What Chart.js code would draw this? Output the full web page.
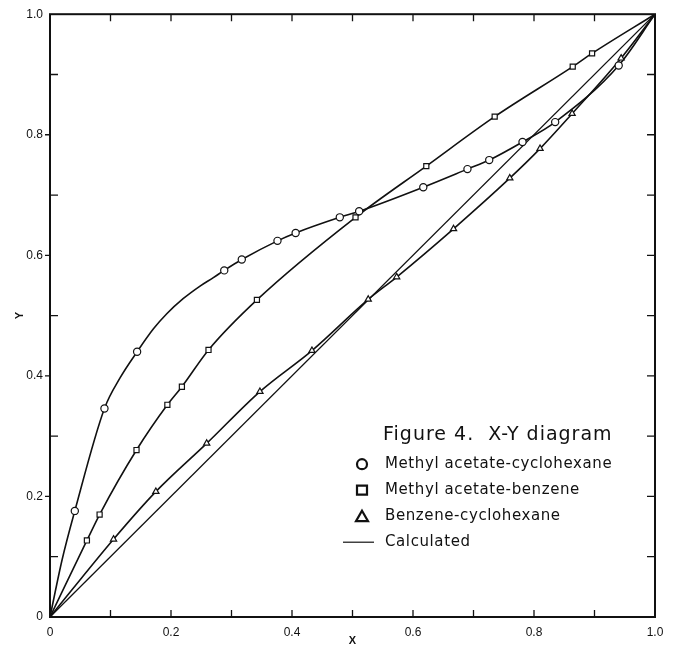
<!DOCTYPE html>
<html>
<head>
<meta charset="utf-8">
<script src="https://cdn.jsdelivr.net/npm/chart.js@4/dist/chart.umd.min.js"></script>
<style>
  html, body { margin: 0; padding: 0; background: #fff; }
  #xyChart { display: block; }
</style>
</head>
<body>
<canvas id="xyChart" width="677" height="652"></canvas>
<script>
const circleX = [0.041, 0.090, 0.144, 0.288, 0.317, 0.376, 0.406, 0.479, 0.511, 0.617, 0.690, 0.726, 0.781, 0.835, 0.940];
const circleY = [0.176, 0.346, 0.440, 0.575, 0.593, 0.624, 0.637, 0.663, 0.673, 0.713, 0.743, 0.758, 0.788, 0.821, 0.915];

const squareX = [0.061, 0.082, 0.143, 0.194, 0.218, 0.262, 0.342, 0.505, 0.622, 0.735, 0.864, 0.896];
const squareY = [0.127, 0.170, 0.277, 0.352, 0.382, 0.443, 0.526, 0.663, 0.748, 0.830, 0.913, 0.935];

const triangleX = [0.105, 0.175, 0.259, 0.347, 0.433, 0.526, 0.573, 0.667, 0.760, 0.810, 0.863, 0.944];
const triangleY = [0.129, 0.208, 0.288, 0.374, 0.442, 0.527, 0.564, 0.644, 0.728, 0.777, 0.835, 0.927];

// Calculated curves
const calcCircleX = [0, 0.020, 0.041, 0.090, 0.116, 0.144, 0.171, 0.193, 0.220, 0.248, 0.270, 0.288, 0.317, 0.376, 0.406, 0.479, 0.511, 0.617, 0.690, 0.726, 0.781, 0.835, 0.940, 1];
const calcCircleY = [0, 0.095, 0.176, 0.346, 0.397, 0.440, 0.478, 0.503, 0.528, 0.549, 0.563, 0.575, 0.593, 0.624, 0.637, 0.663, 0.673, 0.713, 0.743, 0.758, 0.788, 0.821, 0.915, 1];

const calcSquareX = [0, 0.061, 0.082, 0.143, 0.194, 0.218, 0.262, 0.342, 0.505, 0.622, 0.735, 0.864, 0.896, 1];
const calcSquareY = [0, 0.127, 0.170, 0.277, 0.352, 0.382, 0.443, 0.526, 0.663, 0.748, 0.830, 0.913, 0.935, 1];

const calcTriangleX = [0, 0.105, 0.175, 0.259, 0.347, 0.433, 0.526, 0.573, 0.667, 0.760, 0.810, 0.863, 0.944, 1];
const calcTriangleY = [0, 0.129, 0.208, 0.288, 0.374, 0.442, 0.527, 0.564, 0.644, 0.728, 0.777, 0.835, 0.927, 1];

const diagonalX = [0, 1];
const diagonalY = [0, 1];

const majorTicks = [0, 0.2, 0.4, 0.6, 0.8, 1.0];
const minorTicks = [0.1, 0.2, 0.3, 0.4, 0.5, 0.6, 0.7, 0.8, 0.9];

const legendTitle = 'Figure 4.  X-Y diagram';
const legendItems = [
    { style: 'circle', text: 'Methyl acetate-cyclohexane' },
    { style: 'rect', text: 'Methyl acetate-benzene' },
    { style: 'triangle', text: 'Benzene-cyclohexane' },
    { style: 'line', text: 'Calculated' }
];

const toPoints = (xs, ys) => xs.map((x, i) => ({ x: x, y: ys[i] }));

function markerSet(label, xs, ys, style, radius) {
    return {
        label: label,
        type: 'scatter',
        data: toPoints(xs, ys),
        pointStyle: style,
        pointRadius: radius,
        pointBackgroundColor: '#fff',
        pointBorderColor: '#111',
        pointBorderWidth: 1.2,
        showLine: false
    };
}

function curveSet(label, xs, ys, width) {
    return {
        label: label,
        type: 'line',
        data: toPoints(xs, ys),
        borderColor: '#111',
        borderWidth: width,
        pointRadius: 0,
        fill: false,
        cubicInterpolationMode: 'monotone'
    };
}

// frame, tick marks and the in-plot legend
const frameAndLegend = {
    id: 'frameAndLegend',
    afterDraw(chart) {
        const { ctx, chartArea: a, scales: { x, y } } = chart;
        ctx.save();
        ctx.strokeStyle = '#111';
        ctx.lineWidth = 2;
        ctx.strokeRect(a.left, a.top, a.right - a.left, a.bottom - a.top);

        ctx.lineWidth = 1.3;
        ctx.beginPath();
        minorTicks.forEach(v => {
            const px = x.getPixelForValue(v);
            const py = y.getPixelForValue(v);
            ctx.moveTo(px, a.bottom); ctx.lineTo(px, a.bottom - 7);
            ctx.moveTo(px, a.top); ctx.lineTo(px, a.top + 7);
            ctx.moveTo(a.right, py); ctx.lineTo(a.right - 8, py);
            if (Math.round(v * 10) % 2 === 0) {
                ctx.moveTo(a.left, py); ctx.lineTo(a.left - 5, py);
            } else {
                ctx.moveTo(a.left, py); ctx.lineTo(a.left + 8, py);
            }
        });
        ctx.stroke();

        // legend block
        const lx = a.left + 293;
        const top = a.top + 421;
        ctx.fillStyle = '#111';
        ctx.textBaseline = 'middle';
        ctx.textAlign = 'left';
        ctx.font = '19px "DejaVu Sans"';
        ctx.letterSpacing = '1px';
        ctx.fillText(legendTitle, lx + 40, top);

        ctx.font = '15px "DejaVu Sans"';
        ctx.letterSpacing = '0.6px';
        ctx.lineWidth = 2.2;
        legendItems.forEach((item, i) => {
            const cy = top + 29 + i * 26;
            const cx = lx + 19;
            ctx.beginPath();
            if (item.style === 'circle') {
                ctx.arc(cx, cy, 5, 0, Math.PI * 2);
            } else if (item.style === 'rect') {
                ctx.rect(cx - 5, cy - 4.5, 10, 9);
            } else if (item.style === 'triangle') {
                ctx.moveTo(cx, cy - 5.5);
                ctx.lineTo(cx + 6, cy + 5);
                ctx.lineTo(cx - 6, cy + 5);
                ctx.closePath();
            } else {
                ctx.lineWidth = 1.2;
                ctx.moveTo(lx, cy);
                ctx.lineTo(lx + 31, cy);
            }
            ctx.stroke();
            ctx.fillText(item.text, lx + 42, cy);
        });
        ctx.restore();
    }
};

const tickFont = { family: '"Liberation Sans", Arial, sans-serif', size: 12 };

new Chart(document.getElementById('xyChart'), {
    type: 'scatter',
    data: {
        datasets: [
            markerSet('Methyl acetate-cyclohexane', circleX, circleY, 'circle', 3.6),
            markerSet('Methyl acetate-benzene', squareX, squareY, 'rect', 3.6),
            markerSet('Benzene-cyclohexane', triangleX, triangleY, 'triangle', 3.6),
            curveSet('Calc MA-cyclohexane', calcCircleX, calcCircleY, 1.6),
            curveSet('Calc MA-benzene', calcSquareX, calcSquareY, 1.6),
            curveSet('Calc benzene-cyclohexane', calcTriangleX, calcTriangleY, 1.6),
            curveSet('Diagonal', diagonalX, diagonalY, 1.3)
        ]
    },
    options: {
        responsive: false,
        animation: false,
        layout: { padding: { left: 0, top: 12, right: 22, bottom: 0 } },
        plugins: {
            legend: { display: false },
            tooltip: { enabled: false }
        },
        scales: {
            x: {
                type: 'linear',
                min: 0,
                max: 1,
                afterBuildTicks: s => { s.ticks = majorTicks.map(v => ({ value: v })); },
                ticks: {
                    color: '#111',
                    font: tickFont,
                    padding: 8,
                    maxRotation: 0,
                    callback: v => v === 0 ? '0' : v.toFixed(1)
                },
                grid: { display: false, drawTicks: false },
                border: { display: false },
                title: {
                    display: true,
                    text: 'X',
                    color: '#111',
                    font: { family: '"Liberation Sans", Arial, sans-serif', size: 11, weight: 'bold' },
                    padding: 4
                },
                afterFit: s => { s.height = 35; }
            },
            y: {
                type: 'linear',
                min: 0,
                max: 1,
                afterBuildTicks: s => { s.ticks = majorTicks.map(v => ({ value: v })); },
                ticks: {
                    color: '#111',
                    font: tickFont,
                    padding: 7,
                    callback: v => v === 0 ? '0' : v.toFixed(1)
                },
                grid: { display: false, drawTicks: false },
                border: { display: false },
                title: {
                    display: true,
                    text: 'Y',
                    color: '#111',
                    font: { family: '"Liberation Sans", Arial, sans-serif', size: 11, weight: 'bold' },
                    padding: 13
                },
                afterFit: s => { s.width = 50; }
            }
        }
    },
    plugins: [frameAndLegend]
});
</script>
</body>
</html>
